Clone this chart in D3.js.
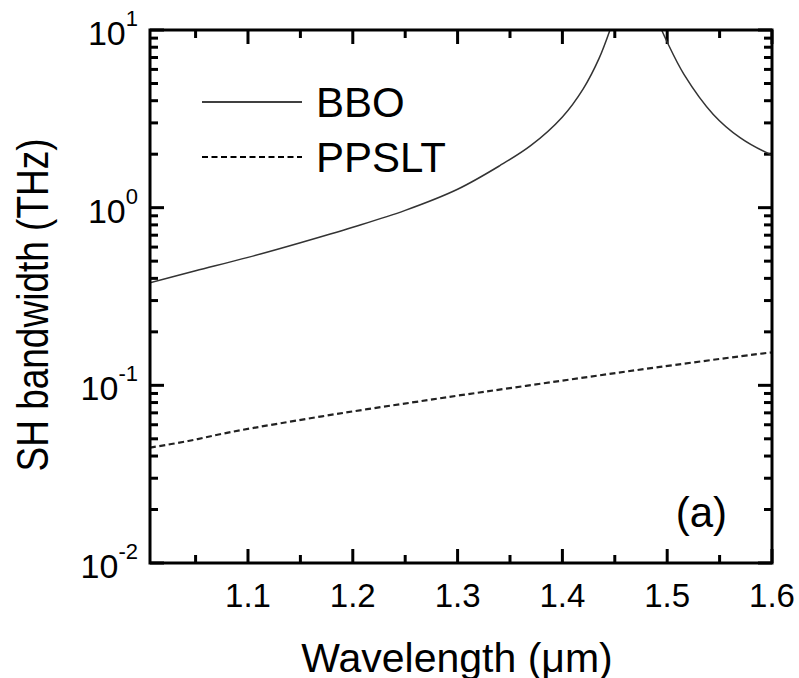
<!DOCTYPE html>
<html>
<head>
<meta charset="utf-8">
<script src="https://cdn.jsdelivr.net/npm/d3@7"></script>
<style>
body { margin: 0; background: #fff; }
text { font-family: "Liberation Sans", Arial, sans-serif; fill: #000; }
</style>
</head>
<body>
<svg width="799" height="678"></svg>
<script>
var svg = d3.select("svg"),
	width = +svg.attr("width"),
	height = +svg.attr("height");

//wavelength (um) and bandwidth (THz)
var bboLeftX = [1.0065, 1.05, 1.10, 1.15, 1.20, 1.25, 1.30, 1.34, 1.37, 1.40, 1.42, 1.435, 1.4454];
var bboLeftY = [0.378, 0.441, 0.525, 0.635, 0.776, 0.966, 1.27, 1.72, 2.24, 3.24, 4.68, 6.92, 10.0];
var bboRightX = [1.4947, 1.4995, 1.516, 1.544, 1.5695, 1.598, 1.6];
var bboRightY = [10.0, 8.67, 5.63, 3.35, 2.48, 2.0, 1.98];
var ppsltX = [1.0065, 1.043, 1.081, 1.129, 1.1926, 1.256, 1.303, 1.3977, 1.4931, 1.598, 1.6];
var ppsltY = [0.0446, 0.0486, 0.0542, 0.0609, 0.0702, 0.080, 0.088, 0.1058, 0.127, 0.1528, 0.153];

var xTicks = [1.1, 1.2, 1.3, 1.4, 1.5, 1.6];
var xMinor = [1.05, 1.15, 1.25, 1.35, 1.45, 1.55];
var yExp = [-2, -1, 0, 1];
var legendNames = ["BBO", "PPSLT"];

var margin = { left: 150, right: 27, top: 30, bottom: 115 };
var pw = width - margin.left - margin.right,
	ph = height - margin.top - margin.bottom;

var x = d3.scaleLinear().domain([1.0065, 1.6]).range([0, pw]);
var y = d3.scaleLog().domain([0.01, 10]).range([ph, 0]);

var g = svg.append("g")
	.attr("transform", "translate(" + margin.left + "," + margin.top + ")");

//minor y ticks 2..9 in each decade
var yMinor = [];
yExp.slice(0, 3).forEach(function (e) {
	for (var k = 2; k < 10; k++) yMinor.push(k * Math.pow(10, e));
});
var yMajor = yExp.map(function (e) { return Math.pow(10, e); });

//inward ticks on all four sides
var ticks = g.append("g").attr("stroke", "#000").attr("stroke-width", 3);
var xt = xTicks.map(function (d) { return [d, 14]; }).concat(xMinor.map(function (d) { return [d, 8]; }));
var yt = yMajor.map(function (d) { return [d, 14]; }).concat(yMinor.map(function (d) { return [d, 8]; }));

ticks.selectAll(".xb").data(xt).enter().append("line")
	.attr("x1", function (d) { return x(d[0]); }).attr("x2", function (d) { return x(d[0]); })
	.attr("y1", ph).attr("y2", function (d) { return ph - d[1]; });
ticks.selectAll(".xt").data(xt).enter().append("line")
	.attr("x1", function (d) { return x(d[0]); }).attr("x2", function (d) { return x(d[0]); })
	.attr("y1", 0).attr("y2", function (d) { return d[1]; });
ticks.selectAll(".yl").data(yt).enter().append("line")
	.attr("y1", function (d) { return y(d[0]); }).attr("y2", function (d) { return y(d[0]); })
	.attr("x1", 0).attr("x2", function (d) { return d[1]; });
ticks.selectAll(".yr").data(yt).enter().append("line")
	.attr("y1", function (d) { return y(d[0]); }).attr("y2", function (d) { return y(d[0]); })
	.attr("x1", pw).attr("x2", function (d) { return pw - d[1]; });

//x tick labels
g.selectAll(".xlab")
	.data(xTicks)
	.enter().append("text")
	.attr("x", function (d) { return x(d); })
	.attr("y", ph + 44)
	.attr("text-anchor", "middle")
	.style("font-size", "33px")
	.text(function (d) { return d.toFixed(1); });

//y tick labels as 10^n
var yl = g.selectAll(".ylab")
	.data(yExp)
	.enter().append("text")
	.attr("x", -12)
	.attr("y", function (d) { return y(Math.pow(10, d)) + 15; })
	.attr("text-anchor", "end")
	.style("font-size", "34px");
yl.append("tspan").text("10");
yl.append("tspan")
	.attr("dy", -19)
	.style("font-size", "22px")
	.text(function (d) { return d; });

//curves, clipped to the frame
svg.append("defs").append("clipPath").attr("id", "clip")
	.append("rect").attr("width", pw).attr("height", ph);

var line = d3.line()
	.x(function (d) { return x(d[0]); })
	.y(function (d) { return y(d[1]); })
	.curve(d3.curveCatmullRom.alpha(0.5));

var curves = g.append("g").attr("clip-path", "url(#clip)");

curves.append("path")
	.datum(d3.zip(bboLeftX, bboLeftY))
	.attr("d", line)
	.attr("fill", "none")
	.attr("stroke", "#333")
	.attr("stroke-width", 1.5);

curves.append("path")
	.datum(d3.zip(bboRightX, bboRightY))
	.attr("d", line)
	.attr("fill", "none")
	.attr("stroke", "#333")
	.attr("stroke-width", 1.5);

curves.append("path")
	.datum(d3.zip(ppsltX, ppsltY))
	.attr("d", line)
	.attr("fill", "none")
	.attr("stroke", "#222")
	.attr("stroke-width", 2.2)
	.attr("stroke-dasharray", "6,3.5");

//frame
g.append("rect")
	.attr("width", pw)
	.attr("height", ph)
	.attr("fill", "none")
	.attr("stroke", "#000")
	.attr("stroke-width", 3);

//legend
var leg = g.append("g").attr("transform", "translate(52,72)");
legendNames.forEach(function (name, i) {
	leg.append("line")
		.attr("x1", 0).attr("x2", 100)
		.attr("y1", i * 55).attr("y2", i * 55)
		.attr("stroke", "#000")
		.attr("stroke-width", i ? 2.2 : 1.5)
		.attr("stroke-dasharray", i ? "6,3.5" : null);
	leg.append("text")
		.attr("x", 114)
		.attr("y", i * 55 + 15)
		.style("font-size", "42px")
		.text(name);
});

//panel label
g.append("text")
	.attr("x", pw - 45)
	.attr("y", ph - 36)
	.attr("text-anchor", "end")
	.style("font-size", "42px")
	.text("(a)");

//axis titles
svg.append("text")
	.attr("x", margin.left + pw / 2 - 4)
	.attr("y", 672)
	.attr("text-anchor", "middle")
	.style("font-size", "41px")
	.text("Wavelength (\u03bcm)");

svg.append("text")
	.attr("transform", "translate(48,305) rotate(-90) scale(1,1.2)")
	.attr("text-anchor", "middle")
	.style("font-size", "37px")
	.text("SH bandwidth (THz)");
</script>
</body>
</html>
